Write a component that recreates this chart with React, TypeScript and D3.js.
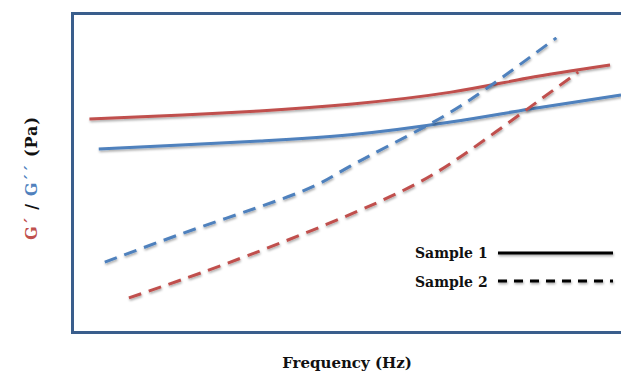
import * as d3 from 'd3'

// arbitrary units, 0-100 on both axes (no ticks on the original)
const g1x = [3, 20, 34, 51, 69, 83, 98]
const g1y = [66.8, 68.0, 69.3, 71.5, 75.2, 79.6, 83.7]
const g2x = [4.7, 19.7, 34.2, 50.6, 68.9, 83.4, 100]
const g2y = [57.4, 58.6, 59.9, 61.8, 65.8, 69.9, 74.3]
const s2bx = [5.8, 23.3, 41.5, 50.6, 64.8, 75.6, 88.2]
const s2by = [21.9, 32.9, 43.9, 52.0, 64.9, 76.5, 92.2]
const s2rx = [10.2, 23.3, 41.5, 59.7, 71.2, 83.4, 92.2]
const s2ry = [10.7, 18.5, 30.4, 43.9, 55.5, 70.5, 81.5]

const legendLabels = ['Sample 1', 'Sample 2']

const RED = '#C0504D'
const BLUE = '#4F81BD'
const FRAME = '#3A5E8C'
const FONT = '"DejaVu Serif", serif'

const W = 621
const H = 374

export default function App() {
  const x = d3.scaleLinear().domain([0, 100]).range([73, 621])
  const y = d3.scaleLinear().domain([0, 100]).range([332, 13])
  const line = d3.line<[number, number]>()
    .x(d => x(d[0]))
    .y(d => y(d[1]))
    .curve(d3.curveNatural)
  const zip = (xs: number[], ys: number[]) => xs.map((v, i) => [v, ys[i]] as [number, number])

  const series = [
    { pts: zip(g1x, g1y), color: RED, dash: null },
    { pts: zip(g2x, g2y), color: BLUE, dash: null },
    { pts: zip(s2bx, s2by), color: BLUE, dash: '13 8' },
    { pts: zip(s2rx, s2ry), color: RED, dash: '13 8' },
  ]

  return (
    <svg width={W} height={H} style={{ position: 'absolute', left: 0, top: 0, background: '#fff' }}>
      <defs>
        <filter id="sh" filterUnits="userSpaceOnUse" x={0} y={0} width={W} height={H}>
          <feDropShadow dx="0.6" dy="1.6" stdDeviation="0.8" floodColor="#000" floodOpacity="0.35" />
        </filter>
      </defs>
      <path d={`M${W + 5},13.5H72.5V332.5H${W + 5}`} fill="none" stroke={FRAME} strokeWidth={3} />
      {series.map((s, i) => (
        <path key={i} d={line(s.pts) || ''} fill="none" stroke={s.color} strokeWidth={3}
          strokeDasharray={s.dash || undefined} filter="url(#sh)" />
      ))}
      {legendLabels.map((lab, i) => (
        <g key={lab}>
          <text x={415} y={258 + i * 29} fontFamily={FONT} fontWeight="bold" fontSize={14}
            fill="#111">{lab}</text>
          <line x1={498} x2={613} y1={253 + i * 28} y2={253 + i * 28} stroke="#000" strokeWidth={3}
            strokeDasharray={i === 1 ? '9 7' : undefined} filter="url(#sh)" />
        </g>
      ))}
      <text x={347} y={368} textAnchor="middle" fontFamily={FONT} fontWeight="bold" fontSize={15}
        fill="#111">Frequency (Hz)</text>
      <text transform="translate(37,178) rotate(-90)" textAnchor="middle" fontFamily={FONT}
        fontWeight="bold" fontSize={16} letterSpacing={1}>
        <tspan fill={RED}>G´</tspan>
        <tspan fill="#111"> / </tspan>
        <tspan fill={BLUE}>G´´</tspan>
        <tspan fill="#111"> (Pa)</tspan>
      </text>
    </svg>
  )
}
